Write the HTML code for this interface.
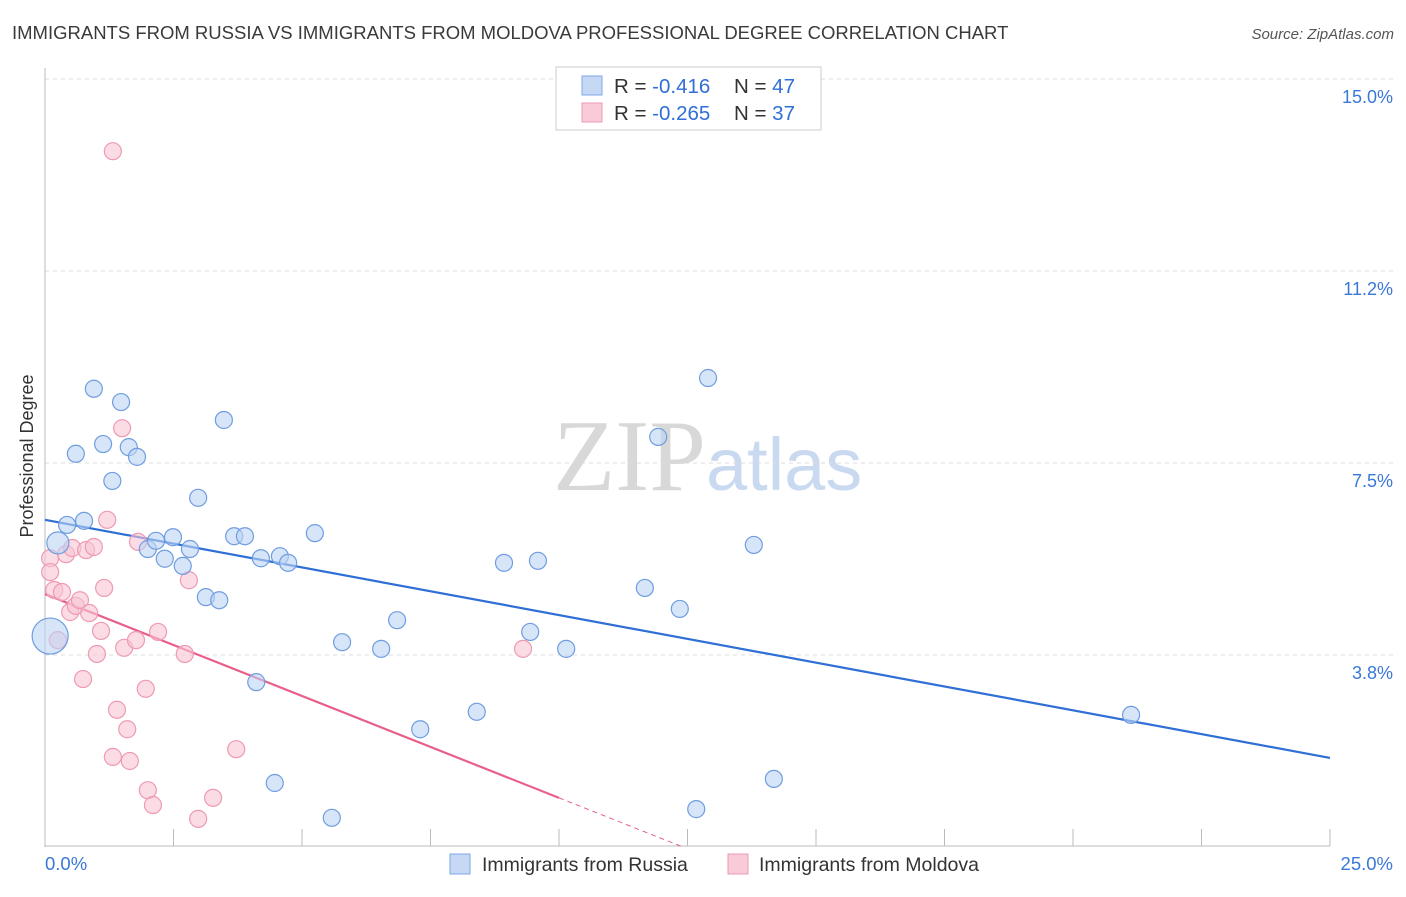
<!DOCTYPE html>
<html><head><meta charset="utf-8"><style>
body{margin:0;background:#fff;font-family:"Liberation Sans",sans-serif}
svg text{font-family:"Liberation Sans",sans-serif}
</style></head><body>
<svg id="chart" width="1406" height="892" viewBox="0 0 1406 892" xmlns="http://www.w3.org/2000/svg">
<text x="12" y="39" font-size="18.5" fill="#3a3a3a">IMMIGRANTS FROM RUSSIA VS IMMIGRANTS FROM MOLDOVA PROFESSIONAL DEGREE CORRELATION CHART</text>
<text x="1394" y="39" font-size="15" fill="#555" text-anchor="end" font-style="italic">Source: ZipAtlas.com</text>
<text x="553" y="490" font-size="102"><tspan fill="#d8d8d8" font-family="Liberation Serif">ZIP</tspan><tspan fill="#c9d9f0" font-size="74">atlas</tspan></text>
<g id="grid"></g>
<g id="axes"></g>
<text transform="translate(33,456) rotate(-90)" font-size="18" fill="#333" text-anchor="middle">Professional Degree</text>
<g id="lines"></g>
<g id="points"></g>
<g>
<rect x="556" y="67" width="265" height="63" fill="#fff" stroke="#ccc"/>
<rect x="582" y="76" width="20" height="19" fill="#c5d9f5" stroke="#7da6e6"/>
<rect x="582" y="103" width="20" height="19" fill="#f9cbd8" stroke="#ee9ab2"/>
<text x="614" y="93" font-size="20.5" fill="#333">R = <tspan fill="#2f6fd6">-0.416</tspan><tspan x="734">N = </tspan><tspan fill="#2f6fd6">47</tspan></text>
<text x="614" y="120" font-size="20.5" fill="#333">R = <tspan fill="#2f6fd6">-0.265</tspan><tspan x="734">N = </tspan><tspan fill="#2f6fd6">37</tspan></text>
</g>
<g>
<rect x="450" y="854" width="20" height="20" fill="#c5d9f5" stroke="#7da6e6"/>
<text x="482" y="871" font-size="19.5" fill="#333">Immigrants from Russia</text>
<rect x="728" y="854" width="20" height="20" fill="#f9cbd8" stroke="#ee9ab2"/>
<text x="759" y="871" font-size="19.5" fill="#333">Immigrants from Moldova</text>
</g>
</svg>
<script>
const yTicks=[3.75,7.5,11.25,15];
const yTickLabels=["3.8%","7.5%","11.2%","15.0%"];
const xTickCount=10;
const xMax=25, yMax=15;
const russiaX=[0.10,0.25,0.43,0.76,0.60,0.95,1.13,1.31,1.48,1.63,1.79,2.00,2.16,2.33,2.49,2.68,2.82,2.98,3.13,3.39,3.48,3.68,3.89,4.11,4.20,4.57,4.73,4.47,5.25,5.58,5.78,6.54,6.85,7.30,8.40,8.93,9.44,9.59,10.14,11.67,11.93,12.35,12.67,12.90,13.79,14.18,21.13];
const russiaY=[4.12,5.94,6.29,6.37,7.68,8.95,7.87,7.15,8.69,7.81,7.62,5.82,5.98,5.63,6.05,5.49,5.82,6.82,4.88,4.82,8.34,6.07,6.07,3.22,5.64,5.68,5.55,1.25,6.13,0.57,4.00,3.87,4.43,2.30,2.64,5.55,4.20,5.59,3.87,5.06,8.01,4.65,0.74,9.16,5.90,1.33,2.58];
const moldovaX=[1.32,0.10,0.10,0.18,0.33,0.41,0.53,0.80,0.95,1.21,1.15,0.49,0.60,0.68,0.86,1.09,1.01,1.54,1.77,2.20,1.50,1.81,2.80,2.72,0.74,1.96,1.40,1.60,1.32,1.65,2.00,2.10,3.27,2.98,3.72,9.30,0.25];
const moldovaY=[13.59,5.64,5.37,5.02,4.98,5.72,5.84,5.80,5.86,6.39,5.06,4.59,4.71,4.82,4.57,4.22,3.77,3.89,4.04,4.20,8.18,5.96,5.21,3.77,3.28,3.09,2.68,2.30,1.76,1.68,1.11,0.82,0.96,0.55,1.91,3.87,4.04];
const russiaTrend=[6.39,-0.186];
const moldovaTrend=[4.94,-0.398];
const NS="http://www.w3.org/2000/svg";
const X0=45,X1=1330,Y0=847,Y15=79;
const sx=v=>X0+(X1-X0)*v/xMax;
const sy=v=>Y0-(Y0-Y15)*v/yMax;
function mk(tag,attrs,parent){const e=document.createElementNS(NS,tag);for(const k in attrs)e.setAttribute(k,attrs[k]);document.getElementById(parent).appendChild(e);return e;}
yTicks.forEach((t,i)=>{
 const g=mk('line',{x1:X0,x2:1394,y1:sy(t),y2:sy(t),stroke:'#ddd','stroke-dasharray':'4,4'},'grid');
 
 
 const l=mk('text',{x:1393,y:sy(t)+24,'font-size':18,fill:'#3a78d8','text-anchor':'end'},'grid');
 l.textContent=yTickLabels[i];
 
 
});
const ax=mk('line',{x1:X0,x2:X1,y1:Y0-1,y2:Y0-1,stroke:'#bbb'},'axes');


const ay=mk('line',{x1:X0,x2:X0,y1:68,y2:Y0,stroke:'#bbb'},'axes');


for(let i=0;i<=xTickCount;i++){
 const x=sx(xMax*i/xTickCount);
 const t=mk('line',{x1:x,x2:x,y1:Y0-18,y2:Y0-1,stroke:'#bbb'},'axes');
 
 
}
const xl=mk('text',{x:45,y:870,'font-size':18.5,fill:'#3a78d8'},'axes');xl.textContent='0.0%';


const xr=mk('text',{x:1393,y:870,'font-size':18.5,fill:'#3a78d8','text-anchor':'end'},'axes');xr.textContent='25.0%';


function trend(c,x0,x1,col,dash,name){
 const l=mk('line',{x1:sx(x0),y1:sy(c[0]+c[1]*x0),x2:sx(x1),y2:sy(c[0]+c[1]*x1),stroke:col,'stroke-width':dash?1:2.2,'stroke-dasharray':dash||'none'},'lines');
 
 
}
trend(russiaTrend,0,25,'#2f6fd6',null,'russia-trend-line');
trend(moldovaTrend,0,10,'#e8608a',null,'moldova-trend-line');
trend(moldovaTrend,10,12.4,'#e8608a','5,4','moldova-trend-extension');
function pts(xs,ys,fill,stroke,name){
 xs.forEach((v,i)=>{
  let r=8.5;
  if(name==='russia-point'&&i===0)r=18;
  if(name==='russia-point'&&i===1)r=11;
  const c=mk('circle',{cx:sx(v),cy:sy(ys[i]),r:r,fill:fill,stroke:stroke,'stroke-width':1.2,'fill-opacity':0.6},'points');
  
  
 });
}
pts(moldovaX,moldovaY,'#f9c4d4','#ee9ab2','moldova-point');
pts(russiaX,russiaY,'#bcd3f3','#6f9de0','russia-point');
</script>
</body></html>
